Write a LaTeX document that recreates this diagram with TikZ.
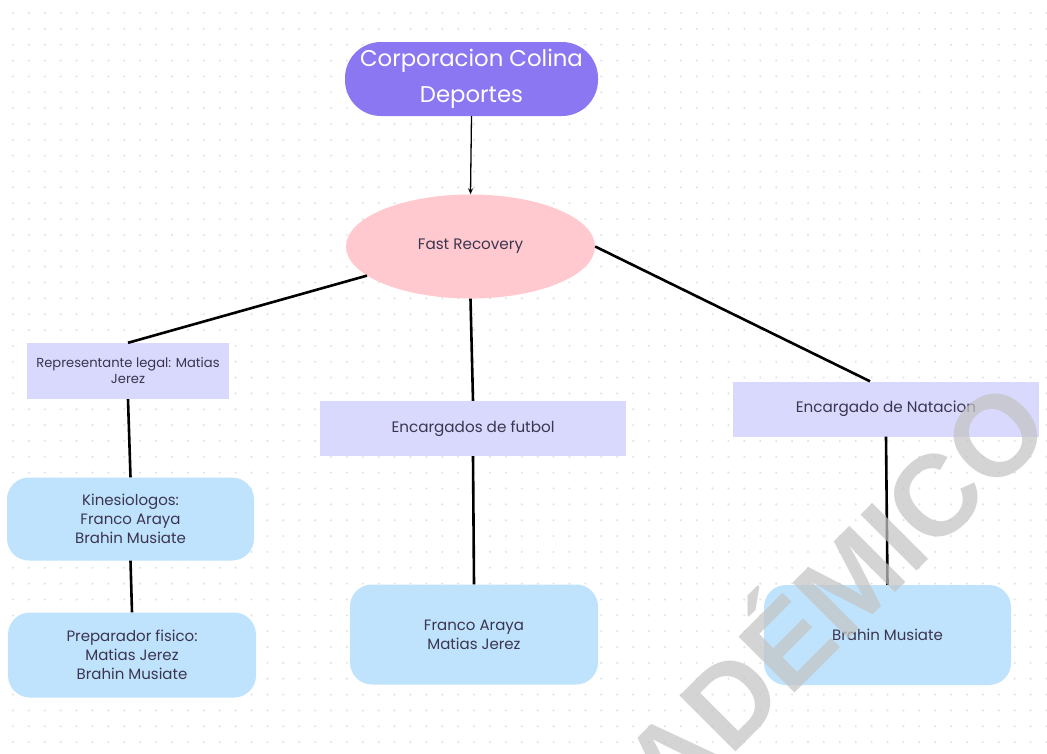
\documentclass[tikz,border=0pt]{standalone}
\usepackage{fontspec}
\setmainfont{Poppins}
\newfontfamily\wmfont{Liberation Sans}
\usetikzlibrary{shapes.geometric,arrows.meta}
\definecolor{titlefill}{HTML}{8C77F3}
\definecolor{pinkfill}{HTML}{FFC9CF}
\definecolor{lavfill}{HTML}{D8D9FC}
\definecolor{bluefill}{HTML}{BFE3FC}
\definecolor{txt}{HTML}{3B3550}
\definecolor{dotc}{HTML}{E2E5E8}
\definecolor{wmc}{HTML}{C4C4C4}
\tikzset{
  lab/.style={text=txt, align=center, inner sep=2pt},
  titlebox/.style={fill=titlefill, rounded corners=36pt, text=white, align=center,
    minimum width=253pt, minimum height=74pt, font=\fontsize{22.8}{36}\selectfont},
  ellbox/.style={ellipse, fill=pinkfill, minimum width=249pt, minimum height=104pt, lab,
    font=\fontsize{15.2}{18}\selectfont},
  lavbox/.style={rectangle, fill=lavfill, lab},
  bluebox/.style={rectangle, fill=bluefill, rounded corners=22pt, lab,
    font=\fontsize{15}{19.3}\selectfont},
  conn/.style={line width=2.6pt, black},
}
\begin{document}
\begin{tikzpicture}[x=1pt,y=-1pt]
\useasboundingbox (0,0) rectangle (1047,753);
\clip (0,0) rectangle (1047,753);
\fill[white] (0,0) rectangle (1047,753);
\foreach \i in {0,...,65} {
  \foreach \j in {0,...,47} {
    \fill[dotc] ({13+15.9*\i},{13+15.85*\j}) circle (1.2);
  }
}
\node[titlebox] (title) at (471.5,79) {Corporacion Colina\\Deportes};
\node[ellbox] (fr) at (470.5,246.5) {Fast Recovery};
\node[lavbox, minimum width=202pt, minimum height=56pt, font=\fontsize{13.1}{16}\selectfont] (rep) at (128,371) {Representante legal: Matias\\Jerez};
\node[lavbox, minimum width=306pt, minimum height=55pt, font=\fontsize{15.2}{18}\selectfont] (fut) at (473,428.5) {Encargados de futbol};
\node[lavbox, minimum width=306pt, minimum height=55pt, font=\fontsize{15.2}{18}\selectfont] (nat) at (886,409) {Encargado de Natacion};
\node[bluebox, minimum width=247pt, minimum height=83pt] (kin) at (130.5,519) {Kinesiologos:\\Franco Araya\\Brahin Musiate};
\node[bluebox, minimum width=248pt, minimum height=85pt] (prep) at (132,655) {Preparador fisico:\\Matias Jerez\\Brahin Musiate};
\node[bluebox, minimum width=248pt, minimum height=100pt] (fa) at (474,634.5) {Franco Araya\\Matias Jerez};
\node[bluebox, minimum width=247pt, minimum height=100pt] (bm) at (887.5,635) {Brahin Musiate};
\draw[line width=1.3pt, -{Stealth[length=6pt,width=5pt]}] (title.south) -- (fr.north);
\draw[conn] (fr) -- (rep.north);
\draw[conn] (fr.south) -- (fut.north);
\draw[conn] (fr.east) -- ([xshift=-16pt]nat.north);
\draw[conn] (rep.south) -- (kin.north);
\draw[conn] (kin.south) -- (prep.north);
\draw[conn] (fut.south) -- (fa.north);
\draw[conn] (nat.south) -- (bm.north);
\node[text=wmc, opacity=0.72, rotate=45, anchor=base east, font=\wmfont\bfseries\fontsize{115}{115}\selectfont, inner sep=0pt] (wm) at (1056,432) {ACADÉMICO};
\end{tikzpicture}
\end{document}
